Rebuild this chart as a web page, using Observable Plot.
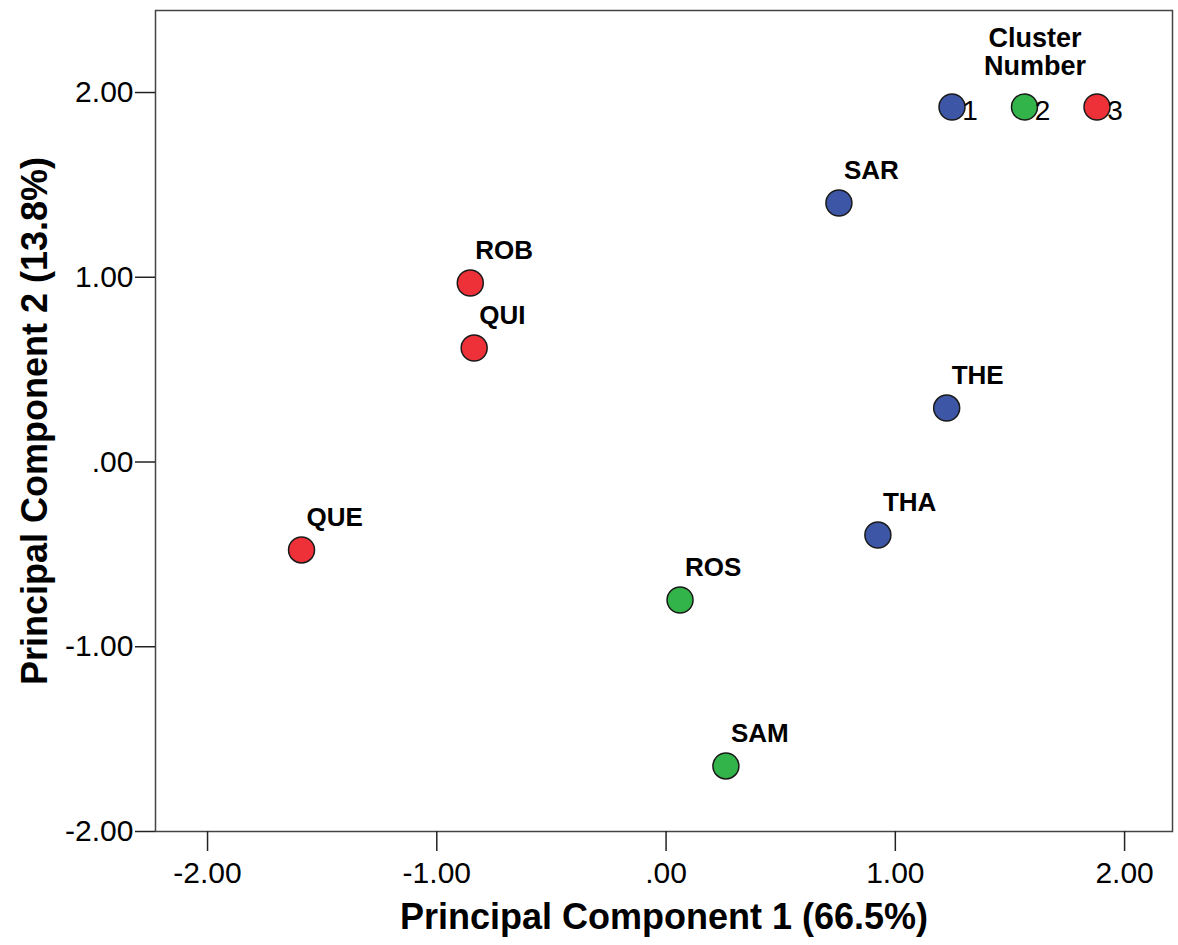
<!DOCTYPE html>
<html>
<head>
<meta charset="utf-8">
<script src="https://cdn.jsdelivr.net/npm/d3@7"></script>
<script src="https://cdn.jsdelivr.net/npm/@observablehq/plot@0.6"></script>
<style>
  html, body { margin: 0; padding: 0; background: #fff; }
  #chart { position: relative; width: 1178px; height: 945px; }
</style>
</head>
<body>
<div id="chart"></div>
<script>
// ---- data ----
const names    = ["SAR", "ROB", "QUI", "THE", "THA", "QUE", "ROS", "SAM"];
const pc1      = [0.754, -0.854, -0.837, 1.224, 0.924, -1.590, 0.061, 0.261];
const pc2      = [1.402, 0.969, 0.617, 0.292, -0.395, -0.476, -0.747, -1.645];
const clusters = [1, 3, 3, 1, 1, 3, 2, 2];
const clusterDomain = [1, 2, 3];
const clusterColors = ["#3d56a6", "#33b44a", "#ee3139"];
const xTicks = [-2, -1, 0, 1, 2];
const yTicks = [-2, -1, 0, 1, 2];
const xTitle = "Principal Component 1 (66.5%)";
const yTitle = "Principal Component 2 (13.8%)";
const legendTitle = ["Cluster", "Number"];

const data = names.map((n, i) => ({name: n, x: pc1[i], y: pc2[i], cluster: clusters[i]}));
const fmt = d => (d === 0 ? ".00" : d.toFixed(2));
const FONT = "'Liberation Sans', Arial, Helvetica, sans-serif";

const plot = Plot.plot({
  width: 1178,
  height: 945,
  marginLeft: 155,
  marginRight: 6,
  marginTop: 10,
  marginBottom: 114,
  style: {fontFamily: FONT, fontSize: "30px", background: "#fff", color: "#000", overflow: "visible"},
  x: {domain: [-2.227, 2.209]},
  y: {domain: [-2.0, 2.444]},
  color: {domain: clusterDomain, range: clusterColors},
  marks: [
    Plot.frame({stroke: "#444", strokeWidth: 1.5}),
    Plot.axisX({ticks: xTicks, tickSize: 20, tickPadding: 10, tickFormat: fmt, fontSize: 30, label: null, stroke: "#222", strokeWidth: 1.5}),
    Plot.axisY({ticks: yTicks, tickSize: 20, tickPadding: 2, tickFormat: fmt, fontSize: 30, label: null, stroke: "#222", strokeWidth: 1.5}),
    Plot.text([xTitle], {frameAnchor: "bottom", dy: 97, fontSize: 36, fontWeight: "bold", fill: "#000"}),
    Plot.text([yTitle], {frameAnchor: "left", textAnchor: "middle", dx: -120, rotate: -90, fontSize: 36, fontWeight: "bold", fill: "#000"}),
    Plot.dot(data, {x: "x", y: "y", r: 13, fill: "cluster", stroke: "#1a1a1a", strokeWidth: 1.5}),
    Plot.text(data, {x: "x", y: "y", text: "name", dx: 5, dy: -32, textAnchor: "start", fontSize: 26, fontWeight: "bold", fill: "#000"})
  ]
});

document.getElementById("chart").appendChild(plot);

// ---- legend (inside plot, top right) ----
const svg = d3.select(plot);
const lg = svg.append("g").attr("font-family", FONT);
lg.selectAll("text.title")
  .data(legendTitle)
  .join("text")
  .attr("class", "title")
  .attr("x", 1035)
  .attr("y", (d, i) => 47 + i * 28)
  .attr("text-anchor", "middle")
  .attr("font-size", 27)
  .attr("font-weight", "bold")
  .text(d => d);
const items = lg.selectAll("g.item")
  .data(clusterDomain)
  .join("g")
  .attr("class", "item")
  .attr("transform", (d, i) => `translate(${952 + i * 72.5},107)`);
items.append("circle")
  .attr("r", 13)
  .attr("fill", (d, i) => clusterColors[i])
  .attr("stroke", "#1a1a1a")
  .attr("stroke-width", 1.5);
items.append("text")
  .attr("x", 18)
  .attr("y", 13)
  .attr("font-size", 28)
  .text(d => d);
</script>
</body>
</html>
